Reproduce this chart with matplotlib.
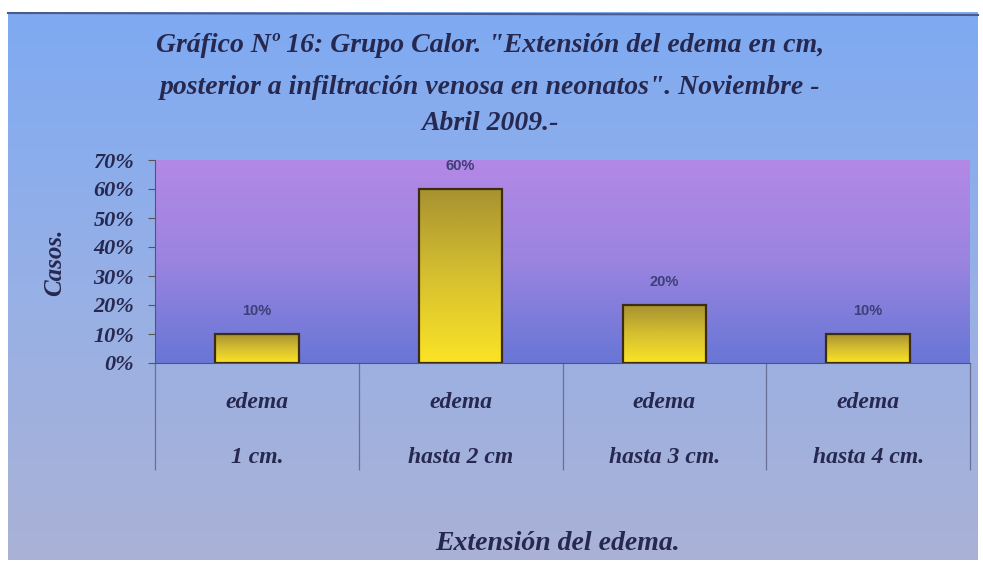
import numpy as np
import matplotlib
matplotlib.use("Agg")
import matplotlib.pyplot as plt
from matplotlib.colors import LinearSegmentedColormap

# datos del grafico
categorias_l1 = ["edema", "edema", "edema", "edema"]
categorias_l2 = ["1 cm.", "hasta 2 cm", "hasta 3 cm.", "hasta 4 cm."]
porcentajes = [0.10, 0.60, 0.20, 0.10]
etiquetas = ["10%", "60%", "20%", "10%"]
ticks_y = [0.0, 0.1, 0.2, 0.3, 0.4, 0.5, 0.6, 0.7]
ticks_y_lbl = ["0%", "10%", "20%", "30%", "40%", "50%", "60%", "70%"]

serif = "Liberation Serif"
oscuro = "#27284f"

fig = plt.figure(figsize=(9.83, 5.64), dpi=100)
fig.patch.set_facecolor("white")

# degradado: fila 0 abajo (origin lower)
grad = np.linspace(0, 1, 256).reshape(-1, 1)

# fondo del panel (gris lavanda abajo -> azul arriba)
fondo = fig.add_axes([0, 0, 1, 1])
fondo.set_xlim(0, 983)
fondo.set_ylim(0, 564)
fondo.axis("off")
cm_fondo = LinearSegmentedColormap.from_list("fondo", ["#aab2d6", "#97b0e6", "#7eaaf2"])
fondo.imshow(grad, cmap=cm_fondo, origin="lower", extent=[8, 978, 4, 552],
             aspect="auto", zorder=0)
fondo.plot([8, 978], [551, 549], color="#4a5a8a", lw=1.5, zorder=1)
fondo.set_xlim(0, 983)
fondo.set_ylim(0, 564)

# area del grafico (azul abajo -> violeta arriba)
ax = fig.add_axes([155 / 983, 1 - 363 / 564, 815 / 983, 203 / 564])
cm_area = LinearSegmentedColormap.from_list("area", ["#6876d6", "#9a84e0", "#b488e6"])
ax.imshow(grad, cmap=cm_area, origin="lower", extent=[0, 1, 0, 1],
          transform=ax.transAxes, aspect="auto", zorder=0)

x = np.arange(len(porcentajes))
barras = ax.bar(x, porcentajes, width=0.41, facecolor="none",
                edgecolor="#3b2c12", linewidth=1.6, zorder=3)
# barras: amarillo abajo -> oliva arriba
cm_barra = LinearSegmentedColormap.from_list("barra", ["#fbe425", "#d6c030", "#a89230"])
for b in barras:
    ax.imshow(grad, cmap=cm_barra, origin="lower", aspect="auto", zorder=2,
              extent=[b.get_x(), b.get_x() + b.get_width(), 0, b.get_height()])

for i, v in enumerate(porcentajes):
    ax.text(x[i], v + 0.078, etiquetas[i], ha="center", va="center",
            fontsize=10.5, fontweight="bold", family="Liberation Sans", color="#3d3f78")

ax.set_xlim(-0.5, 3.5)
ax.set_ylim(0, 0.7)
ax.set_xticks([])
ax.set_yticks(ticks_y)
ax.set_yticklabels(ticks_y_lbl, fontsize=16, fontweight="bold", style="italic",
                   family=serif, color=oscuro)
ax.tick_params(axis="y", length=5, color="#555", pad=10)
for s in ["top", "right"]:
    ax.spines[s].set_visible(False)
ax.spines["left"].set_color("#555566")
ax.spines["bottom"].set_color("#555566")

# tabla de categorias bajo el eje
trans = ax.get_xaxis_transform()
ax.vlines(np.arange(-0.5, 4, 1), -0.527, 0, transform=trans, clip_on=False,
          color="#6a6f95", lw=0.9)
for i in range(len(categorias_l1)):
    ax.text(x[i], -0.193, categorias_l1[i], transform=trans, ha="center", va="center",
            fontsize=17, fontweight="bold", style="italic", family=serif, color=oscuro)
    ax.text(x[i], -0.465, categorias_l2[i], transform=trans, ha="center", va="center",
            fontsize=17, fontweight="bold", style="italic", family=serif, color=oscuro)

# titulos
titulo = ["Gráfico Nº 16: Grupo Calor. \"Extensión del edema en cm,",
          "posterior a infiltración venosa en neonatos\". Noviembre -",
          "Abril 2009.-"]
for txt, yy in zip(titulo, [45, 87, 124]):
    fig.text(490 / 983, 1 - yy / 564, txt, ha="center", va="center", fontsize=20,
             fontweight="bold", style="italic", family=serif, color=oscuro)

fig.text(55 / 983, 1 - 262 / 564, "Casos.", rotation=90, ha="center", va="center",
         fontsize=18, fontweight="bold", style="italic", family=serif, color=oscuro)
fig.text(558 / 983, 1 - 543 / 564, "Extensión del edema.", ha="center", va="center",
         fontsize=20, fontweight="bold", style="italic", family=serif, color=oscuro)

fig.savefig("out.png", dpi=100)
